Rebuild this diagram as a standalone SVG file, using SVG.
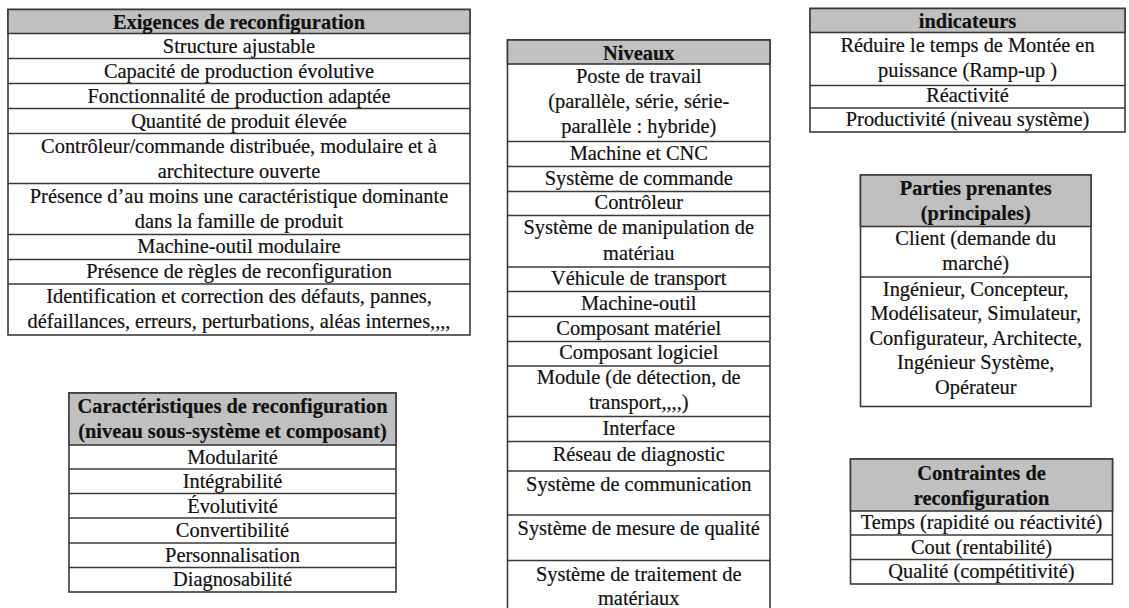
<svg xmlns="http://www.w3.org/2000/svg" width="1129" height="608" viewBox="0 0 1129 608">
<style>
.frame{fill:#fff;stroke:#3a3a3a;stroke-width:1.6}
.hd{fill:#c0c0c0;stroke:#3a3a3a;stroke-width:1.6}
.sep{stroke:#3a3a3a;stroke-width:1.6}
text{font-family:"Liberation Serif","Times New Roman",serif;font-size:20.4px;fill:#111;stroke:#111;stroke-width:0.2;text-anchor:middle}
text.b{font-weight:bold}
</style>
<rect width="1129" height="608" fill="#fff"/>
<g id="connectors"/>

<g id="exigences">
<rect class="frame" x="8" y="9.5" width="462" height="325.5"/>
<rect class="hd" x="8" y="9.5" width="462" height="24"/>
<line class="sep" x1="8" y1="58.5" x2="470" y2="58.5"/>
<line class="sep" x1="8" y1="83.5" x2="470" y2="83.5"/>
<line class="sep" x1="8" y1="108.5" x2="470" y2="108.5"/>
<line class="sep" x1="8" y1="133.5" x2="470" y2="133.5"/>
<line class="sep" x1="8" y1="183.5" x2="470" y2="183.5"/>
<line class="sep" x1="8" y1="234.5" x2="470" y2="234.5"/>
<line class="sep" x1="8" y1="259.5" x2="470" y2="259.5"/>
<line class="sep" x1="8" y1="284" x2="470" y2="284"/>
<text class="b" x="239" y="29">Exigences de reconfiguration</text>
<text x="239" y="53">Structure ajustable</text>
<text x="239" y="78">Capacité de production évolutive</text>
<text x="239" y="103">Fonctionnalité de production adaptée</text>
<text x="239" y="128">Quantité de produit élevée</text>
<text x="239" y="153">Contrôleur/commande distribuée, modulaire et à</text>
<text x="239" y="178">architecture ouverte</text>
<text x="239" y="203">Présence d’au moins une caractéristique dominante</text>
<text x="239" y="228">dans la famille de produit</text>
<text x="239" y="253">Machine-outil modulaire</text>
<text x="239" y="278">Présence de règles de reconfiguration</text>
<text x="239" y="303">Identification et correction des défauts, pannes,</text>
<text x="239" y="328">défaillances, erreurs, perturbations, aléas internes,,,,</text>
</g>

<g id="caracteristiques">
<rect class="frame" x="69" y="393" width="327" height="199"/>
<rect class="hd" x="69" y="393" width="327" height="52"/>
<line class="sep" x1="69" y1="469" x2="396" y2="469"/>
<line class="sep" x1="69" y1="493.5" x2="396" y2="493.5"/>
<line class="sep" x1="69" y1="518" x2="396" y2="518"/>
<line class="sep" x1="69" y1="543" x2="396" y2="543"/>
<line class="sep" x1="69" y1="567.5" x2="396" y2="567.5"/>
<text class="b" x="232.5" y="413">Caractéristiques de reconfiguration</text>
<text class="b" x="232.5" y="438">(niveau sous-système et composant)</text>
<text x="232.5" y="464">Modularité</text>
<text x="232.5" y="488">Intégrabilité</text>
<text x="232.5" y="513">Évolutivité</text>
<text x="232.5" y="537">Convertibilité</text>
<text x="232.5" y="562">Personnalisation</text>
<text x="232.5" y="586">Diagnosabilité</text>
</g>

<g id="niveaux">
<rect class="frame" x="507.5" y="40" width="262.5" height="572"/>
<rect class="hd" x="507.5" y="40" width="262.5" height="24"/>
<line class="sep" x1="507.5" y1="141.5" x2="770" y2="141.5"/>
<line class="sep" x1="507.5" y1="166.5" x2="770" y2="166.5"/>
<line class="sep" x1="507.5" y1="191.5" x2="770" y2="191.5"/>
<line class="sep" x1="507.5" y1="215.5" x2="770" y2="215.5"/>
<line class="sep" x1="507.5" y1="267" x2="770" y2="267"/>
<line class="sep" x1="507.5" y1="291.5" x2="770" y2="291.5"/>
<line class="sep" x1="507.5" y1="316.5" x2="770" y2="316.5"/>
<line class="sep" x1="507.5" y1="341.5" x2="770" y2="341.5"/>
<line class="sep" x1="507.5" y1="366" x2="770" y2="366"/>
<line class="sep" x1="507.5" y1="416.5" x2="770" y2="416.5"/>
<line class="sep" x1="507.5" y1="441.5" x2="770" y2="441.5"/>
<line class="sep" x1="507.5" y1="471" x2="770" y2="471"/>
<line class="sep" x1="507.5" y1="515" x2="770" y2="515"/>
<line class="sep" x1="507.5" y1="560.5" x2="770" y2="560.5"/>
<text class="b" x="638.75" y="60">Niveaux</text>
<text x="638.75" y="83">Poste de travail</text>
<text x="638.75" y="108">(parallèle, série, série-</text>
<text x="638.75" y="133">parallèle : hybride)</text>
<text x="638.75" y="160">Machine et CNC</text>
<text x="638.75" y="185">Système de commande</text>
<text x="638.75" y="209">Contrôleur</text>
<text x="638.75" y="234">Système de manipulation de</text>
<text x="638.75" y="260">matériau</text>
<text x="638.75" y="285">Véhicule de transport</text>
<text x="638.75" y="310">Machine-outil</text>
<text x="638.75" y="335">Composant matériel</text>
<text x="638.75" y="359">Composant logiciel</text>
<text x="638.75" y="384">Module (de détection, de</text>
<text x="638.75" y="409">transport,,,,)</text>
<text x="638.75" y="435">Interface</text>
<text x="638.75" y="461">Réseau de diagnostic</text>
<text x="638.75" y="491">Système de communication</text>
<text x="638.75" y="535">Système de mesure de qualité</text>
<text x="638.75" y="581">Système de traitement de</text>
<text x="638.75" y="605">matériaux</text>
</g>

<g id="indicateurs">
<rect class="frame" x="810" y="8.5" width="315" height="123.5"/>
<rect class="hd" x="810" y="8.5" width="315" height="24"/>
<line class="sep" x1="810" y1="85.5" x2="1125" y2="85.5"/>
<line class="sep" x1="810" y1="108" x2="1125" y2="108"/>
<text class="b" x="967.5" y="28">indicateurs</text>
<text x="967.5" y="52">Réduire le temps de Montée en</text>
<text x="967.5" y="77">puissance (Ramp-up )</text>
<text x="967.5" y="102">Réactivité</text>
<text x="967.5" y="126">Productivité (niveau système)</text>
</g>

<g id="parties-prenantes">
<rect class="frame" x="860.5" y="175" width="230.5" height="231.5"/>
<rect class="hd" x="860.5" y="175" width="230.5" height="51.5"/>
<line class="sep" x1="860.5" y1="277" x2="1091" y2="277"/>
<text class="b" x="975.75" y="195">Parties prenantes</text>
<text class="b" x="975.75" y="220">(principales)</text>
<text x="975.75" y="245">Client (demande du</text>
<text x="975.75" y="270">marché)</text>
<text x="975.75" y="296">Ingénieur, Concepteur,</text>
<text x="975.75" y="320">Modélisateur, Simulateur,</text>
<text x="975.75" y="345">Configurateur, Architecte,</text>
<text x="975.75" y="369">Ingénieur Système,</text>
<text x="975.75" y="394">Opérateur</text>
</g>

<g id="contraintes">
<rect class="frame" x="850.5" y="459" width="262" height="125"/>
<rect class="hd" x="850.5" y="459" width="262" height="52"/>
<line class="sep" x1="850.5" y1="535" x2="1112.5" y2="535"/>
<line class="sep" x1="850.5" y1="559.5" x2="1112.5" y2="559.5"/>
<text class="b" x="981.5" y="480">Contraintes de</text>
<text class="b" x="981.5" y="505">reconfiguration</text>
<text x="981.5" y="529">Temps (rapidité ou réactivité)</text>
<text x="981.5" y="554">Cout (rentabilité)</text>
<text x="981.5" y="578">Qualité (compétitivité)</text>
</g>
</svg>
